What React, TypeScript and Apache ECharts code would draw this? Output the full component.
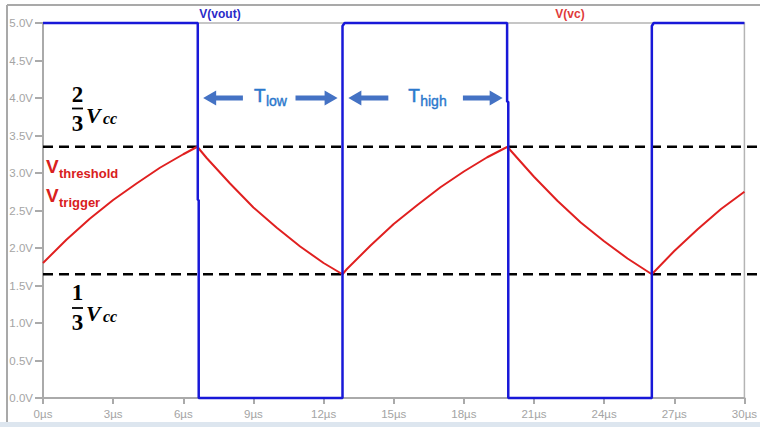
import { useEffect, useRef } from "react";
import * as echarts from "echarts";

// V(vout) square wave (time in µs, volts)
const voutT = [0, 6.62, 6.62, 6.66, 6.66, 12.81, 12.81, 12.9, 19.85, 19.85, 19.9, 19.9, 26.04, 26.04, 26.12, 30];
const voutV = [5, 5, 2.64, 2.64, 0, 0, 4.96, 5, 5, 3.95, 3.95, 0, 0, 4.96, 5, 5];

// V(vc) capacitor voltage (time in µs, volts)
const vcT = [0, 1, 2, 3, 4, 5, 6, 6.6, 7, 8, 9, 10, 11, 12, 12.81, 13, 14, 15, 16, 17, 18, 19, 19.87, 20, 21, 22, 23, 24, 25, 26.04, 27, 28, 29, 30];
const vcV = [1.8, 2.11, 2.39, 2.64, 2.86, 3.07, 3.25, 3.35, 3.2, 2.86, 2.54, 2.27, 2.02, 1.8, 1.65, 1.72, 2.03, 2.32, 2.57, 2.81, 3.02, 3.21, 3.35, 3.3, 2.95, 2.63, 2.34, 2.09, 1.86, 1.65, 1.96, 2.25, 2.52, 2.75];

// threshold levels (2/3 Vcc, 1/3 Vcc)
const levelValues = [3.35, 1.65];

// period arrows: tail time -> head time, at voltage level
const arrowFrom = [8.55, 10.8, 14.77, 17.96];
const arrowTo = [6.85, 12.6, 13.06, 19.66];
const arrowLevel = 4.0;

// period labels
const periodLabelT = [9.02, 15.62];
const periodLabelSub = ["low", "high"];

export default function App() {
  const ref = useRef<HTMLDivElement>(null);

  useEffect(() => {
    const chart = echarts.init(ref.current!, null, { renderer: "svg" });
    const axisGray = "#aaaaaa";
    const labelGray = "#a4a4a4";
    chart.setOption({
      animation: false,
      backgroundColor: "#ffffff",
      grid: {
        left: 43,
        right: 12,
        top: 23,
        bottom: 29,
        show: true,
        borderColor: "#b4b4b4",
        borderWidth: 1.5,
        backgroundColor: "transparent",
      },
      xAxis: {
        type: "value",
        min: 0,
        max: 30,
        interval: 3,
        axisLine: { show: true, lineStyle: { color: axisGray, width: 2 } },
        axisTick: { show: true, length: 6, lineStyle: { color: axisGray, width: 2 } },
        axisLabel: {
          formatter: (v: number) => v + "µs",
          color: labelGray,
          fontSize: 11.5,
          fontFamily: "Liberation Sans",
          margin: 10,
        },
        splitLine: { show: false },
      },
      yAxis: {
        type: "value",
        min: 0,
        max: 5,
        interval: 0.5,
        axisLine: { show: true, lineStyle: { color: axisGray, width: 2 } },
        axisTick: { show: true, length: 8, lineStyle: { color: axisGray, width: 2 } },
        axisLabel: {
          formatter: (v: number) => v.toFixed(1) + "V",
          color: labelGray,
          fontSize: 11.5,
          fontFamily: "Liberation Sans",
          margin: 10,
        },
        splitLine: { show: false },
      },
      series: [
        {
          type: "line",
          name: "V(vc)",
          data: vcT.map((t, i) => [t, vcV[i]]),
          showSymbol: false,
          symbol: "none",
          clip: false,
          z: 3,
          lineStyle: { color: "#e02020", width: 2 },
        },
        {
          type: "line",
          name: "V(vout)",
          data: voutT.map((t, i) => [t, voutV[i]]),
          showSymbol: false,
          symbol: "none",
          clip: false,
          z: 4,
          lineStyle: { color: "#1818d8", width: 2.5 },
        },
      ],
    });

    const px = (t: number, v: number) => chart.convertToPixel({ gridIndex: 0 }, [t, v]) as number[];
    const elements: any[] = [];

    // outer frame
    elements.push({ type: "line", z: 1, shape: { x1: 7, y1: 5, x2: 760, y2: 5 }, style: { stroke: "#a9a9a9", lineWidth: 2 } });
    elements.push({ type: "line", z: 1, shape: { x1: 7, y1: 5, x2: 7, y2: 422 }, style: { stroke: "#a9a9a9", lineWidth: 2 } });
    elements.push({ type: "rect", z: 1, shape: { x: 0, y: 422, width: 760, height: 5 }, style: { fill: "#dde6ef" } });

    // trace names
    elements.push({
      type: "text", z: 10, x: 220, y: 14,
      style: { text: "V(vout)", fill: "#2a2ac8", fontSize: 12, fontWeight: "bold", fontFamily: "Liberation Sans", align: "center", verticalAlign: "middle" },
    });
    elements.push({
      type: "text", z: 10, x: 570, y: 14,
      style: { text: "V(vc)", fill: "#e03a3a", fontSize: 12, fontWeight: "bold", fontFamily: "Liberation Sans", align: "center", verticalAlign: "middle" },
    });

    // dashed threshold lines
    levelValues.forEach((v) => {
      const p = px(0, v);
      elements.push({
        type: "line", z: 1,
        shape: { x1: p[0], y1: p[1], x2: 757, y2: p[1] },
        style: { stroke: "#000000", lineWidth: 2.5, lineDash: [10, 6] },
      });
    });

    // arrows
    const arrowColor = "#4472c4";
    arrowFrom.forEach((tf, i) => {
      const a = px(tf, arrowLevel);
      const b = px(arrowTo[i], arrowLevel);
      const x1 = a[0];
      const x2 = b[0];
      const y = a[1];
      const dir = x2 > x1 ? 1 : -1;
      const L = 13;
      const hh = 7.5;
      const sh = 2.5;
      const xb = x2 - dir * L;
      elements.push({
        type: "polygon", z: 10,
        shape: {
          points: [
            [x1, y - sh], [xb, y - sh], [xb, y - hh], [x2, y], [xb, y + hh], [xb, y + sh], [x1, y + sh],
          ],
        },
        style: { fill: arrowColor },
      });
    });

    // T labels
    const tColor = "#2b78cc";
    periodLabelT.forEach((t, i) => {
      const p = px(t, arrowLevel);
      elements.push({
        type: "text", z: 10, x: p[0], y: p[1] - 3,
        style: { text: "T", fill: tColor, fontSize: 19, fontFamily: "Liberation Sans", align: "left", verticalAlign: "middle", stroke: tColor, lineWidth: 0.5 },
      });
      elements.push({
        type: "text", z: 10, x: p[0] + 12, y: p[1] + 3,
        style: { text: periodLabelSub[i], fill: tColor, fontSize: 14, fontFamily: "Liberation Sans", align: "left", verticalAlign: "middle", stroke: tColor, lineWidth: 0.4 },
      });
    });

    // V threshold / V trigger labels
    const red = "#d92020";
    const vLab = (y: number, sub: string, subY: number) => {
      elements.push({
        type: "text", z: 10, x: 46, y,
        style: { text: "V", fill: red, fontSize: 19, fontWeight: "bold", fontFamily: "Liberation Sans", align: "left", verticalAlign: "middle" },
      });
      elements.push({
        type: "text", z: 10, x: 59, y: subY,
        style: { text: sub, fill: red, fontSize: 13, fontWeight: "bold", fontFamily: "Liberation Sans", align: "left", verticalAlign: "middle" },
      });
    };
    vLab(166, "threshold", 173.5);
    vLab(195, "trigger", 202.5);

    // fractions 2/3 Vcc and 1/3 Vcc
    const frac = (num: string, numY: number, barY: number, denY: number, vY: number, ccY: number) => {
      elements.push({
        type: "text", z: 10, x: 77.5, y: numY,
        style: { text: num, fill: "#000", fontSize: 23, fontWeight: "bold", fontFamily: "Liberation Serif", align: "center", verticalAlign: "middle" },
      });
      elements.push({ type: "line", z: 10, shape: { x1: 72, y1: barY, x2: 83, y2: barY }, style: { stroke: "#000", lineWidth: 1.8 } });
      elements.push({
        type: "text", z: 10, x: 77.5, y: denY,
        style: { text: "3", fill: "#000", fontSize: 23, fontWeight: "bold", fontFamily: "Liberation Serif", align: "center", verticalAlign: "middle" },
      });
      elements.push({
        type: "text", z: 10, x: 86, y: vY,
        style: { text: "V", fill: "#000", fontSize: 22, fontWeight: "bold", fontStyle: "italic", fontFamily: "Liberation Serif", align: "left", verticalAlign: "middle" },
      });
      elements.push({
        type: "text", z: 10, x: 103, y: ccY,
        style: { text: "cc", fill: "#000", fontSize: 16, fontWeight: "bold", fontStyle: "italic", fontFamily: "Liberation Serif", align: "left", verticalAlign: "middle" },
      });
    };
    frac("2", 94, 108.5, 123, 115, 118);
    frac("1", 292.5, 308, 322, 313, 316);

    chart.setOption({ graphic: elements });

    return () => chart.dispose();
  }, []);

  return <div ref={ref} style={{ position: "absolute", left: 0, top: 0, width: 760, height: 427 }} />;
}
